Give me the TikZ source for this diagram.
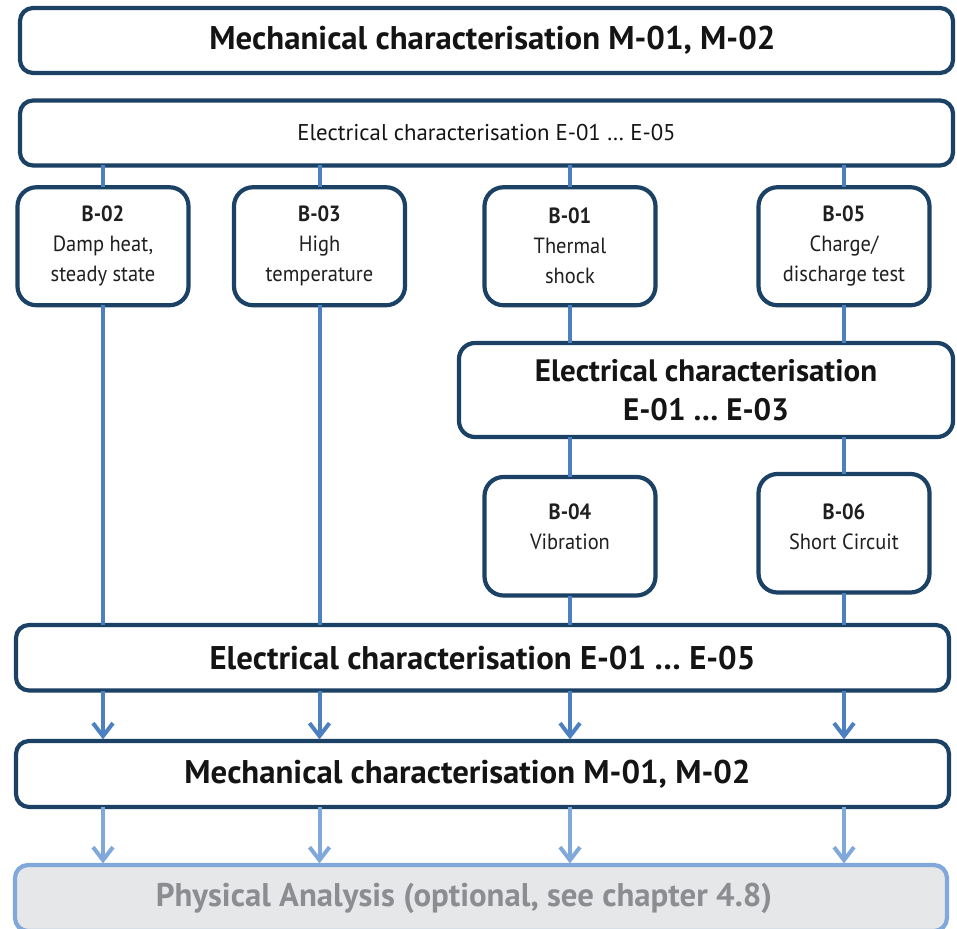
\documentclass[tikz,border=0pt]{standalone}
\usepackage{fontspec}
\setmainfont{PT Sans}
\newfontfamily\narrowfont{PT Sans}[FakeStretch=0.93]
\usetikzlibrary{arrows.meta}
\definecolor{navy}{RGB}{27,66,100}
\definecolor{lineblue}{RGB}{76,128,193}
\definecolor{lightblue}{RGB}{128,168,218}
\definecolor{physfill}{RGB}{230,231,233}
\definecolor{phystext}{RGB}{139,141,144}

\begin{document}
\begin{tikzpicture}[
  x=0.5pt, y=-0.5pt,
  wide/.style={draw=navy, line width=2.1pt, rounded corners=6.5pt, fill=white,
    minimum width=466.5pt, minimum height=32.5pt, inner sep=0pt, outer sep=0pt,
    align=center, text=black!92},
  big/.style={font=\fontsize{16.4}{19}\selectfont\bfseries},
  mid/.style={font=\fontsize{15.5}{19.5}\selectfont\bfseries},
  small/.style={font=\fontsize{11.4}{14}\selectfont},
  bbox/.style={draw=navy, line width=2.1pt, rounded corners=9.5pt, fill=white,
    minimum width=85.5pt, minimum height=59pt, inner sep=0pt, outer sep=0pt,
    align=center, text=black!88, font=\narrowfont\fontsize{11}{15}\selectfont},
  link/.style={draw=lineblue, line width=2pt},
  arr/.style={link, -{Straight Barb[length=6.5pt, width=10pt]}, shorten >=0.8pt},
  arrlight/.style={arr, draw=lightblue}
]
\useasboundingbox (0,0) rectangle (957,929);
\clip (0,0) rectangle (957,929);

% ── top characterisation ─────────────────────────────────────────────────
\node[wide, big] (mechA) at (486.5,40.5) {\hspace*{6pt}Mechanical characterisation M-01, M-02};
\node[wide, small] (elecA) at (486.5,133) {Electrical characterisation E-01 … E-05};

% ── load tests ───────────────────────────────────────────────────────────
\node[bbox] (b02) at (103,246.25) {\textbf{B-02}\\Damp heat,\\steady state};
\node[bbox] (b03) at (319.5,246.25) {\textbf{B-03}\\High\\temperature};
\node[bbox] (b01) at (570,246.25) {\textbf{B-01}\\Thermal\\shock};
\node[bbox] (b05) at (844,246.25) {\textbf{B-05}\\Charge/\\discharge test};

\node[wide, mid, minimum width=247pt, minimum height=47pt, rounded corners=8pt] (e03)
  at (706,390) {Electrical characterisation\\E-01 … E-03};

\node[bbox, minimum height=59.25pt] (b04) at (570,536.25) {\textbf{B-04}\\Vibration\\[-10pt]\strut};
\node[bbox, minimum height=59.25pt] (b06) at (844,533.25) {\textbf{B-06}\\Short Circuit\\[-13pt]\strut};

% ── final characterisation ───────────────────────────────────────────────
\node[wide, big, minimum height=32.75pt] (e05) at (482.5,657.75)
  {Electrical characterisation E-01 … E-05};
\node[wide, big, minimum height=33pt] (mechB) at (482.5,774)
  {\hspace*{-15pt}Mechanical characterisation M-01, M-02};
\node[wide, big, draw=lightblue, fill=physfill, text=phystext, minimum width=466pt,
  minimum height=33pt] (phys) at (481,898)
  {\hspace*{-17pt}Physical Analysis (optional, see chapter 4.8)};

% ── connectors ───────────────────────────────────────────────────────────
\foreach \b in {b02,b03,b01,b05}
  \draw[link] (elecA.south -| \b) -- (\b.north);
\draw[link] (b02.south) -- (b02.south |- e05.north);
\draw[link] (b03.south) -- (b03.south |- e05.north);
\draw[link] (b01.south) -- (b01.south |- e03.north);
\draw[link] (b05.south) -- (b05.south |- e03.north);
\draw[link] (e03.south -| b04) -- (b04.north);
\draw[link] (e03.south -| b06) -- (b06.north);
\draw[link] (b04.south) -- (b04.south |- e05.north);
\draw[link] (b06.south) -- (b06.south |- e05.north);
\foreach \b in {b02,b03,b04,b06}
  \draw[arr] (e05.south -| \b) -- (mechB.north -| \b);
\foreach \b in {b02,b03,b04,b06}
  \draw[arrlight] (mechB.south -| \b) -- (phys.north -| \b);

\end{tikzpicture}
\end{document}
